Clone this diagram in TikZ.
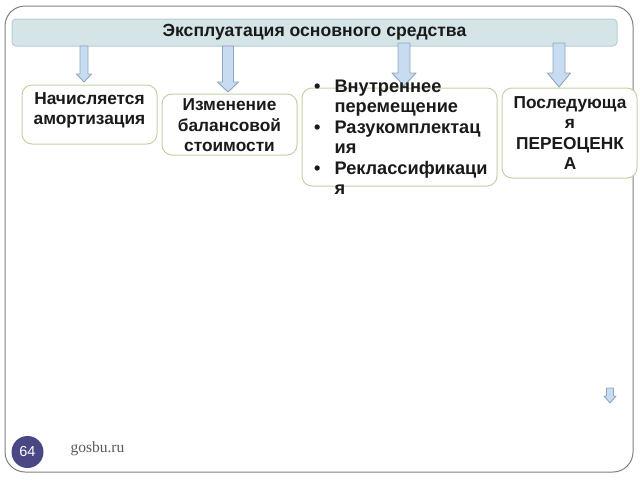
\documentclass[tikz,border=0pt]{standalone}
\usepackage{fontspec}
\setmainfont{Liberation Sans}
\newfontfamily\serifgos{Liberation Serif}
\definecolor{framegray}{HTML}{7F7F7F}
\definecolor{barfill}{HTML}{D5E5E7}
\definecolor{barline}{HTML}{B7CDD1}
\definecolor{boxline}{HTML}{C3D2A6}
\definecolor{arrfill}{HTML}{C7DCF1}
\definecolor{arrline}{HTML}{8FA5BC}
\definecolor{circfill}{HTML}{4A4884}
\definecolor{txt}{HTML}{1A1A1A}
\newcommand\blockarrow[6]{% x, top, bottom, shaft half, head half, head length
  \draw[barrowstyle] (#1-#4,#2) -- (#1-#4,#3-#6) -- (#1-#5,#3-#6) -- (#1,#3)
    -- (#1+#5,#3-#6) -- (#1+#4,#3-#6) -- (#1+#4,#2) -- cycle;}
\tikzset{
  barrowstyle/.style={draw=arrline, fill=arrfill, line width=0.9pt, line join=round},
  itembox/.style={draw=boxline, fill=white, line width=1pt, rounded corners=10pt},
  boxtext/.style={font=\fontsize{17.3}{20.5}\selectfont\bfseries, text=txt, align=center, inner sep=0pt},
}
\begin{document}
\begin{tikzpicture}[x=1pt,y=-1pt]
\useasboundingbox (0,0) rectangle (640,480);
% outer frame
\draw[framegray, line width=1pt, rounded corners=20pt] (5,6) rectangle (633,472);
% title bar
\node[draw=barline, fill=barfill, line width=1pt, rounded corners=4pt, minimum width=605pt, minimum height=27pt, inner sep=0pt] (title) at (314.5,32.5) {};
\node[font=\fontsize{17.6}{20}\selectfont\bfseries, text=txt] (titletext) at (314.5,32.5) {Эксплуатация основного средства};
% boxes
\draw[itembox] (22,85) rectangle (157,144);
\node[boxtext] (b1) at (89.5,110.5) {Начисляется\\амортизация};
\draw[itembox] (162,94) rectangle (297,155);
\node[boxtext] (b2) at (229.5,125.5) {Изменение\\балансовой\\стоимости};
\draw[itembox] (302,88) rectangle (497,186);
\draw[itembox] (502,88) rectangle (637,178);
\node[boxtext] (b4) at (570,133) {Последующа\\я\\ПЕРЕОЦЕНК\\А};
% arrows
\blockarrow{84}{46}{82}{4}{7.5}{8}
\blockarrow{228}{46}{92}{5.5}{10.5}{10}
\blockarrow{404}{43}{86}{6}{12}{13}
\blockarrow{559}{43}{87}{6}{11.5}{14}
\blockarrow{610}{388}{403}{3.5}{6}{7}
% bullet list (drawn over the arrow)
\node[boxtext, font=\fontsize{18.2}{20.5}\selectfont\bfseries, align=left, anchor=base west] (b3) at (314,92)
  {\begin{tabular}[t]{@{}l@{\hspace{14pt}}l@{}}
   • & Внутреннее\\
     & перемещение\\
   • & Разукомплектац\\
     & ия\\
   • & Реклассификаци\\
     & я
   \end{tabular}};
% footer
\node[circle, fill=circfill, minimum size=32pt, inner sep=0pt, text=white, font=\fontsize{14.5}{16}\selectfont] (pg) at (27.5,452) {64};
\node[font=\serifgos\fontsize{15.5}{18}\selectfont, text=black!65, anchor=base] (site) at (97.5,452) {gosbu.ru};
\end{tikzpicture}
\end{document}
